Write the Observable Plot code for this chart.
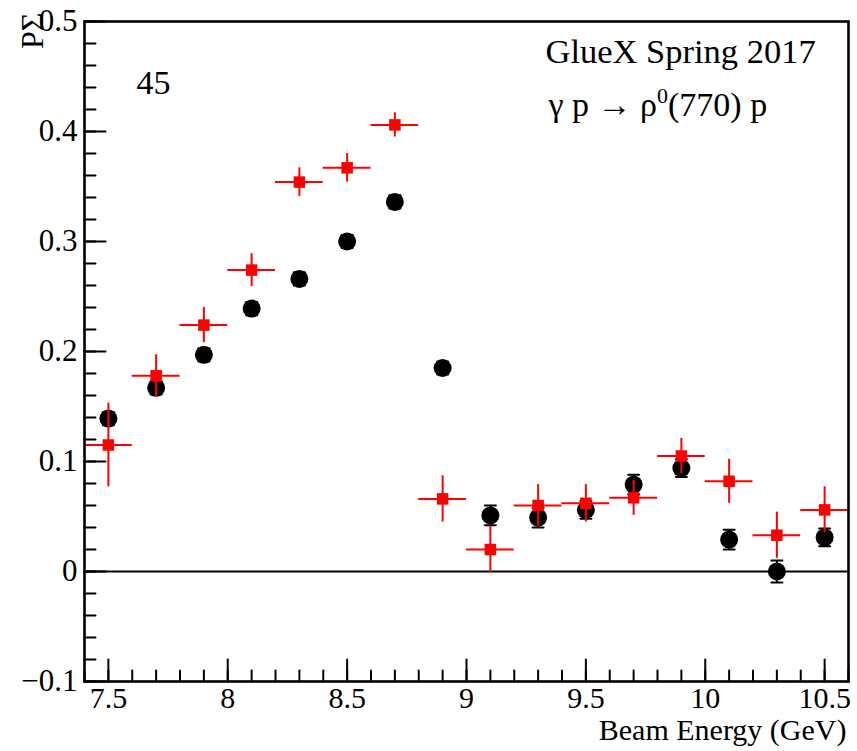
<!DOCTYPE html>
<html>
<head>
<meta charset="utf-8">
<script src="https://cdn.jsdelivr.net/npm/d3@7"></script>
<script src="https://cdn.jsdelivr.net/npm/@observablehq/plot@0.6"></script>
<style>
  html, body { margin: 0; padding: 0; background: #fff; }
  #chart svg { display: block; }
</style>
</head>
<body>
<div id="chart"></div>
<script>
// ---- data ----
const energy   = [7.5, 7.7, 7.9, 8.1, 8.3, 8.5, 8.7, 8.9, 9.1, 9.3, 9.5, 9.7, 9.9, 10.1, 10.3, 10.5];
const blackVal = [0.139, 0.167, 0.197, 0.239, 0.266, 0.300, 0.336, 0.185, 0.051, 0.049, 0.056, 0.079, 0.094, 0.029, 0.000, 0.031];
const blackErr = [0.006, 0.006, 0.006, 0.006, 0.006, 0.006, 0.006, 0.006, 0.009, 0.009, 0.008, 0.009, 0.008, 0.009, 0.010, 0.008];
const redVal   = [0.115, 0.178, 0.224, 0.274, 0.354, 0.367, 0.406, 0.066, 0.020, 0.060, 0.062, 0.067, 0.105, 0.082, 0.033, 0.056];
const redErr   = [0.038, 0.019, 0.016, 0.015, 0.013, 0.013, 0.011, 0.021, 0.021, 0.019, 0.017, 0.016, 0.016, 0.020, 0.021, 0.021];
const binHalfWidth = 0.1;

const xTickVals = [7.5, 8, 8.5, 9, 9.5, 10, 10.5];
const xTickLabels = ["7.5", "8", "8.5", "9", "9.5", "10", "10.5"];
const yTickVals = [-0.1, 0, 0.1, 0.2, 0.3, 0.4, 0.5];
const yTickLabels = ["\u22120.1", "0", "0.1", "0.2", "0.3", "0.4", "0.5"];
const xDomain = [7.4, 10.6];
const yDomain = [-0.1, 0.5];
const xMinor = d3.range(74, 107).map(v => v / 10);
const yMinor = d3.range(-5, 26).map(v => v / 50);

const title1 = "GlueX Spring 2017";
const title2Parts = ["\u03b3 p \u2192 \u03c1", "0", "(770) p"];   // middle part is a superscript
const title2 = title2Parts.join("");
const panelLabel = "45";
const xLabel = "Beam Energy (GeV)";
const yLabel = "P\u03a3";

// ---- build ----
const black = energy.map((e, i) => ({x: e, y: blackVal[i], lo: blackVal[i] - blackErr[i], hi: blackVal[i] + blackErr[i]}));
const red = energy.map((e, i) => ({x: e, y: redVal[i], lo: redVal[i] - redErr[i], hi: redVal[i] + redErr[i], x1: e - binHalfWidth, x2: e + binHalfWidth}));

const tickShape = {draw(ctx, l) { ctx.moveTo(0, 0); ctx.lineTo(0, -l); }};
const capShape = {draw(ctx, l) { ctx.moveTo(-l / 2, 0); ctx.lineTo(l / 2, 0); }};

const font = "Liberation Serif";
const txt = {fontFamily: font, fill: "black"};

const chart = Plot.plot({
  width: 857,
  height: 751,
  marginLeft: 84,
  marginRight: 9,
  marginTop: 21,
  marginBottom: 70,
  style: {fontFamily: font, color: "black", background: "white"},
  x: {domain: xDomain},
  y: {domain: yDomain},
  marks: [
    Plot.ruleY([0], {stroke: "black", strokeWidth: 2}),
    // minor / major ticks drawn inward
    Plot.vector(yMinor, {y: d => d, frameAnchor: "left", length: 11, rotate: 90, anchor: "start", shape: tickShape, stroke: "black", strokeWidth: 2}),
    Plot.vector(yTickVals, {y: d => d, frameAnchor: "left", length: 21, rotate: 90, anchor: "start", shape: tickShape, stroke: "black", strokeWidth: 2}),
    Plot.vector(xMinor, {x: d => d, frameAnchor: "bottom", length: 11, rotate: 0, anchor: "start", shape: tickShape, stroke: "black", strokeWidth: 2}),
    Plot.vector(xTickVals, {x: d => d, frameAnchor: "bottom", length: 22, rotate: 0, anchor: "start", shape: tickShape, stroke: "black", strokeWidth: 2}),
    Plot.axisX({ticks: xTickVals, tickSize: 0, tickPadding: 5, fontSize: 30, tickFormat: d => xTickLabels[xTickVals.indexOf(d)], label: null, ...txt}),
    Plot.axisY({ticks: yTickVals, tickSize: 0, tickPadding: 7, fontSize: 31, tickFormat: d => yTickLabels[yTickVals.indexOf(d)], label: null, ...txt}),
    // black series
    Plot.ruleX(black, {x: "x", y1: "lo", y2: "hi", stroke: "black", strokeWidth: 2}),
    Plot.vector(black, {x: "x", y: "lo", length: 11, rotate: 0, anchor: "start", shape: capShape, stroke: "black", strokeWidth: 2}),
    Plot.vector(black, {x: "x", y: "hi", length: 11, rotate: 0, anchor: "start", shape: capShape, stroke: "black", strokeWidth: 2}),
    Plot.dot(black, {x: "x", y: "y", r: 9, fill: "black", stroke: "none"}),
    // red series
    Plot.ruleY(red, {y: "y", x1: "x1", x2: "x2", stroke: "#ff0000", strokeWidth: 2}),
    Plot.ruleX(red, {x: "x", y1: "lo", y2: "hi", stroke: "#ff0000", strokeWidth: 2}),
    Plot.dot(red, {x: "x", y: "y", r: 6.5, symbol: "square", fill: "#ff0000", stroke: "none"}),
    Plot.frame({stroke: "black", strokeWidth: 2.6}),
    // texts
    Plot.text([title1], {text: d => d, frameAnchor: "top-left", dx: 461, dy: 30, textAnchor: "start", lineAnchor: "middle", fontSize: 34.5, ...txt}),
    Plot.text([title2], {text: d => d, frameAnchor: "top-left", dx: 464, dy: 84, textAnchor: "start", lineAnchor: "middle", fontSize: 34, ...txt}),
    Plot.text([panelLabel], {text: d => d, frameAnchor: "top-left", dx: 52, dy: 62, textAnchor: "start", lineAnchor: "middle", fontSize: 34, ...txt}),
    Plot.text([xLabel], {text: d => d, frameAnchor: "bottom-right", dx: -2, dy: 49, textAnchor: "end", lineAnchor: "middle", fontSize: 30, ...txt}),
    Plot.text([yLabel], {text: d => d, frameAnchor: "top-left", dx: -52, dy: -9, rotate: -90, textAnchor: "end", lineAnchor: "middle", fontSize: 32, ...txt})
  ]
});
document.getElementById("chart").appendChild(chart);

// turn the "0" after rho into a real superscript
d3.select(chart).selectAll("text")
  .filter(function() { return this.textContent === title2; })
  .each(function() {
    const t = d3.select(this);
    t.text(null);
    t.append("tspan").text(title2Parts[0]);
    t.append("tspan").attr("font-size", 22).attr("dy", -13).text(title2Parts[1]);
    t.append("tspan").attr("dy", 13).text(title2Parts[2]);
  });
</script>
</body>
</html>
